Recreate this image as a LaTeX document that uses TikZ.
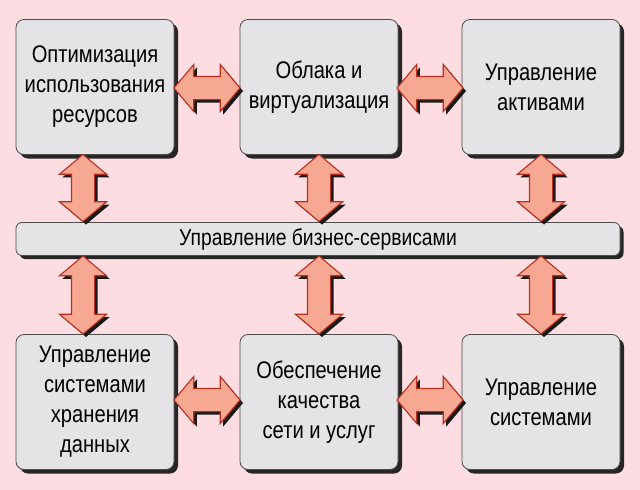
\documentclass[tikz,border=0pt]{standalone}
\usepackage{fontspec}
\setmainfont[FakeStretch=0.84]{Liberation Sans}
\usetikzlibrary{shapes.arrows,shadows}
\definecolor{bg}{HTML}{FDDDE2}
\definecolor{boxc}{HTML}{E4E4E6}
\definecolor{arf}{HTML}{F6A892}
\definecolor{ard}{HTML}{B8301E}
\begin{document}
\begin{tikzpicture}[x=1pt,y=-1pt,
  box/.style={draw=black!70,line width=0.8pt,fill=boxc,rounded corners=8pt,minimum width=158pt,minimum height=135pt,align=center,font=\fontsize{24}{30}\selectfont,inner sep=2pt,
   drop shadow={shadow xshift=4pt,shadow yshift=-4pt,fill=black!85,opacity=1}},
  bar/.style={draw=black!70,line width=0.8pt,fill=boxc,rounded corners=6pt,minimum width=604pt,minimum height=33pt,font=\fontsize{23}{26}\selectfont,inner sep=0pt,
   drop shadow={shadow xshift=3.5pt,shadow yshift=-3.5pt,fill=black!85,opacity=1}},
  dbl/.style={double arrow,draw=ard,line width=1.1pt,fill=arf,double arrow head extend=12pt,double arrow tip angle=100,minimum height=#1,minimum width=46pt,inner xsep=0pt,inner ysep=11pt,
   drop shadow={shadow xshift=3pt,shadow yshift=-3pt,fill=black!90,opacity=1}}]
\fill[bg] (0,0) rectangle (640,490);
\useasboundingbox (0,0) rectangle (640,490);
\node[box] (a) at (95,87) {Оптимизация\\использования\\ресурсов};
\node[box] (b) at (319,87) {Облака и\\виртуализация};
\node[box] (c) at (541,87) {Управление\\активами};
\node[bar] (m) at (318,239) {Управление бизнес-сервисами};
\node[box] (d) at (95,402) {Управление\\системами\\хранения\\данных};
\node[box] (e) at (319,402) {Обеспечение\\качества\\сети и услуг};
\node[box] (f) at (541,402) {Управление\\системами};
\node[dbl=66pt] (ab) at (207,88) {};
\node[dbl=66pt] (bc) at (430,88) {};
\node[dbl=66pt] (de) at (207,400) {};
\node[dbl=66pt] (ef) at (430,400) {};
\node[dbl=67pt,rotate=90] (am) at (83,188) {};
\node[dbl=67pt,rotate=90] (bm) at (319,188) {};
\node[dbl=67pt,rotate=90] (cm) at (541,188) {};
\node[dbl=78pt,rotate=90] (md) at (83,295) {};
\node[dbl=78pt,rotate=90] (me) at (319,295) {};
\node[dbl=78pt,rotate=90] (mf) at (541,295) {};
\end{tikzpicture}
\end{document}
